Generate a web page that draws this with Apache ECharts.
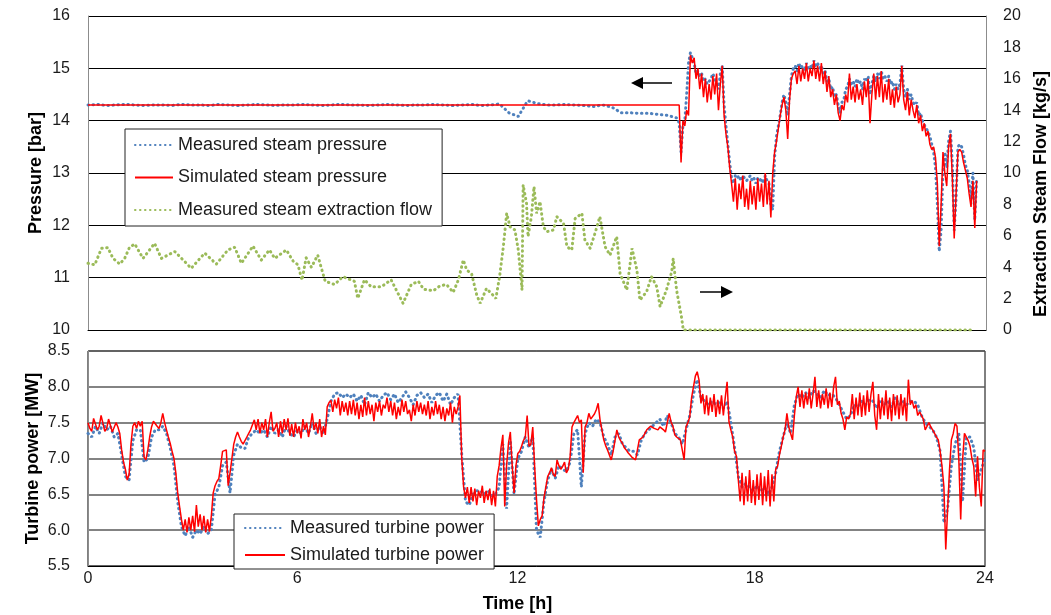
<!DOCTYPE html>
<html><head><meta charset="utf-8">
<script src="https://cdn.jsdelivr.net/npm/echarts@6/dist/echarts.min.js"></script>
<style>html,body{margin:0;padding:0;background:#fff}#c{width:1051px;height:615px}</style>
</head><body><div id="c"></div>
<script>
// ---------- DATA ----------
const xTicks = [0, 6, 12, 18, 24];
// Measured steam pressure [bar], 0 h .. 15.75 h, every 0.25 h
const pressMeasHead = [
 14.30,14.31,14.29,14.30,14.31,14.30,14.29,14.30,
 14.30,14.29,14.31,14.30,14.30,14.29,14.31,14.30,
 14.29,14.30,14.31,14.30,14.29,14.30,14.30,14.31,
 14.30,14.29,14.30,14.31,14.30,14.30,14.29,14.30,
 14.31,14.30,14.29,14.30,14.30,14.31,14.30,14.29,
 14.30,14.31,14.29,14.30,14.32,14.15,14.08,14.38,
 14.33,14.30,14.30,14.31,14.30,14.29,14.27,14.30,
 14.26,14.15,14.15,14.14,14.14,14.12,14.10,14.05
];
// Measured steam pressure [bar], 15.80 h .. 23.75 h, every 0.05 h
const pressMeasDense = [
 13.95,13.4,13.9,14.0,14.5,15.1,15.3,15.2,15.1,14.9,
 14.95,14.85,14.9,14.75,14.8,14.7,14.75,14.8,14.9,14.8,
 14.7,14.6,14.9,15.05,14.3,13.9,13.55,13.2,12.9,12.8,
 12.95,12.9,12.95,12.85,12.95,12.9,12.85,12.9,12.95,12.85,
 12.9,12.8,12.9,12.85,12.9,12.8,12.95,12.85,12.8,12.4,
 12.3,13.3,13.7,13.9,14.1,14.35,14.5,14.35,14.1,14.5,
 14.85,15.0,15.05,14.95,15.1,15.0,15.05,14.95,15.1,15.0,
 15.05,15.0,15.15,15.05,15.1,15.0,15.05,14.9,14.95,14.75,
 14.8,14.6,14.65,14.45,14.5,14.3,14.15,14.35,14.4,14.6,
 14.65,14.8,14.7,14.75,14.65,14.8,14.7,14.75,14.6,14.8,
 14.75,14.85,14.5,14.7,14.85,14.75,14.9,14.8,14.95,14.8,
 14.85,14.75,14.85,14.7,14.75,14.6,14.7,14.6,14.7,15.05,
 14.6,14.45,14.6,14.4,14.5,14.35,14.3,14.35,14.1,14.15,
 14.0,14.0,13.85,13.8,13.7,13.55,13.4,13.1,12.4,11.5,
 11.9,13.0,13.4,13.1,13.6,13.8,13.2,11.9,12.5,13.5,
 13.55,13.5,13.35,13.15,13.05,12.8,12.5,13.0,12.1,12.9
];
// Simulated steam pressure [bar]: constant until 15.8 h, then every 0.05 h from 15.80 h
const pressSimHead = [14.3];
const pressSimDense = [
 14.3,13.2,14.0,13.9,14.2,14.1,15.25,15.1,15.2,14.8,
 15.0,14.6,14.9,14.45,14.8,14.35,14.7,14.4,14.85,14.5,
 14.9,14.2,14.7,15.05,14.1,13.75,13.5,13.1,12.8,12.45,
 12.9,12.3,12.8,12.5,12.95,12.35,12.7,12.3,12.85,12.4,
 12.75,12.3,12.9,12.45,12.8,12.35,13.0,12.4,12.85,12.15,
 13.0,13.4,13.6,13.85,14.1,14.3,14.45,14.2,13.65,14.4,
 14.8,14.9,14.95,14.7,15.05,14.75,15.0,14.8,15.1,14.75,
 15.0,14.85,15.15,14.8,15.05,14.75,15.1,14.7,14.95,14.55,
 14.85,14.45,14.6,14.3,14.5,14.15,14.0,14.3,14.2,14.5,
 14.35,14.9,14.4,14.65,14.35,14.7,14.4,14.6,14.3,14.75,
 14.45,14.8,13.95,14.5,14.9,14.4,14.85,14.45,14.95,14.35,
 14.7,14.4,14.8,14.3,14.6,14.25,14.65,14.35,14.5,15.05,
 14.4,14.2,14.55,14.1,14.4,14.2,14.05,14.3,13.95,14.1,
 13.8,13.95,13.7,13.8,13.55,13.45,13.5,13.3,12.8,11.6,
 12.4,13.4,13.0,12.75,13.5,13.75,12.9,11.75,12.6,13.4,
 13.45,13.4,13.2,13.05,12.9,12.6,12.35,12.85,11.95,12.85
];
// Measured steam extraction flow [kg/s]
const flowTime = [0.00,0.18,0.36,0.53,0.67,0.85,0.98,1.11,1.25,1.47,1.78,1.96,2.32,2.76,3.12,3.43,3.74,3.92,4.10,4.41,
 4.63,4.85,4.99,5.30,5.48,5.61,5.72,5.83,5.97,6.14,6.23,6.34,6.59,6.81,7.12,7.21,7.39,7.57,7.84,8.10,
 8.42,8.64,8.83,8.97,9.23,9.40,9.58,9.76,9.90,10.03,10.12,10.25,10.39,10.48,10.65,10.82,10.90,11.00,11.10,11.19,
 11.28,11.41,11.50,11.60,11.63,11.72,11.76,11.85,11.92,11.99,12.08,12.17,12.26,12.44,12.53,12.71,12.80,12.93,13.02,13.20,
 13.28,13.42,13.55,13.68,13.82,13.95,14.13,14.22,14.40,14.54,14.67,14.75,14.93,15.06,15.20,15.29,15.46,15.60,15.64,15.73,
 15.86,15.91,23.70];
const flowVal = [4.25,4.15,5.2,5.25,4.56,4.2,4.56,5.27,5.48,4.56,5.52,4.56,5.0,3.93,4.9,4.2,5.1,5.27,4.25,5.35,
 4.45,5.1,4.56,5.1,4.4,4.15,3.18,4.6,4.0,4.77,4.0,3.1,2.9,3.4,3.1,2.02,3.2,2.75,2.75,3.2,
 1.7,2.9,3.1,2.6,2.5,2.8,2.9,2.4,3.2,4.46,3.82,3.6,2.23,1.7,2.65,2.23,2.0,3.4,5.3,7.43,
 6.58,6.37,5.1,2.55,9.24,8.07,5.95,7.22,9.13,7.43,8.18,6.58,6.26,6.37,7.22,6.79,5.3,5.1,7.1,7.43,
 5.73,5.2,6.16,7.22,5.3,4.77,5.95,3.6,2.55,5.2,3.82,1.9,2.44,3.4,2.76,1.49,2.55,3.7,4.55,2.55,
 0.85,0.0,0.0];
// Measured turbine power [MW], 0 h .. 24 h every 0.1 h (one row per hour)
const powerMeas = [
 7.35,7.3,7.45,7.35,7.5,7.4,7.45,7.3,7.35,7.05,
 6.75,6.7,7.25,7.4,7.4,6.95,7.0,7.3,7.4,7.4,
 7.45,7.35,7.15,6.9,6.4,6.05,5.92,6.05,5.9,6.0,
 5.95,6.05,5.95,6.0,6.5,6.6,6.9,6.95,6.52,7.05,
 7.2,7.15,7.14,7.3,7.35,7.4,7.35,7.4,7.3,7.45,
 7.35,7.4,7.3,7.45,7.35,7.3,7.4,7.35,7.45,7.35,
 7.5,7.35,7.45,7.35,7.55,7.8,7.9,7.92,7.85,7.9,
 7.85,7.9,7.8,7.88,7.75,7.92,7.85,7.9,7.8,7.88,
 7.92,7.82,7.9,7.78,7.85,7.93,7.85,7.75,7.88,7.92,
 7.85,7.9,7.78,7.88,7.92,7.8,7.9,7.75,7.85,7.9,
 7.05,6.4,6.35,6.5,6.55,6.55,6.5,6.55,6.48,6.5,
 6.6,7.2,6.3,7.25,6.5,7.0,7.1,7.3,7.15,7.3,
 6.0,5.9,6.4,6.7,6.85,6.72,6.9,6.85,6.82,6.95,
 7.35,7.4,6.6,7.35,7.5,7.45,7.55,7.5,7.3,7.2,
 7.05,7.3,7.35,7.2,7.15,7.1,7.1,7.05,7.25,7.35,
 7.4,7.45,7.5,7.55,7.45,7.6,7.5,7.35,7.3,7.2,
 7.4,7.6,7.9,8.1,7.85,7.8,7.75,7.8,7.75,7.8,
 7.7,7.8,7.5,7.15,6.75,6.6,6.65,6.6,6.55,6.62,
 6.55,6.6,6.5,6.6,6.8,7.1,7.3,7.5,7.35,7.75,
 7.9,7.85,7.92,7.85,7.95,7.9,7.85,7.95,7.88,7.9,
 7.85,7.75,7.65,7.55,7.6,7.75,7.72,7.8,7.75,7.82,
 7.8,7.7,7.82,7.75,7.8,7.72,7.85,7.75,7.8,7.75,
 7.8,7.8,7.75,7.6,7.5,7.45,7.4,7.3,7.1,6.1,
 6.3,6.9,7.2,7.35,6.4,7.3,7.3,7.15,6.7,6.85,
 7.0
];
// Simulated turbine power [MW], 0 h .. 24 h every 0.05 h (one row per hour)
const powerSim = [
 7.5,7.42,7.38,7.56,7.58,7.4,7.45,7.6,7.62,7.38,7.42,7.55,7.55,7.37,7.38,7.5,7.44,7.35,7.12,6.95,
 6.85,6.7,6.78,7.2,7.45,7.5,7.42,7.52,7.45,7.52,7.02,6.98,7.12,7.3,7.44,7.52,7.5,7.45,7.42,7.5,
 7.63,7.5,7.4,7.3,7.21,7.1,7.0,6.8,6.52,6.33,6.15,6.0,6.15,5.97,6.18,6.0,6.2,5.98,6.35,6.05,
 6.22,6.0,6.2,5.97,6.15,5.98,6.2,6.52,6.62,6.68,6.72,6.9,7.1,7.12,7.12,6.62,6.8,7.0,7.2,7.3,
 7.37,7.3,7.24,7.2,7.21,7.3,7.35,7.4,7.4,7.54,7.4,7.55,7.35,7.5,7.4,7.55,7.3,7.5,7.65,7.38,
 7.42,7.5,7.3,7.52,7.35,7.55,7.4,7.56,7.32,7.48,7.3,7.5,7.35,7.45,7.28,7.55,7.4,7.5,7.3,7.45,
 7.63,7.4,7.5,7.35,7.55,7.3,7.45,7.33,7.72,7.78,7.81,7.65,7.82,7.7,7.85,7.6,7.8,7.65,7.78,7.6,
 7.8,7.62,7.82,7.6,7.78,7.55,7.75,7.58,7.85,7.6,7.8,7.62,7.75,7.52,7.78,7.65,7.8,7.6,7.75,7.7,
 7.85,7.65,7.8,7.6,7.78,7.55,7.72,7.6,7.82,7.65,7.8,7.62,7.68,7.52,7.75,7.6,7.8,7.65,7.78,7.62,
 7.75,7.6,7.8,7.55,7.72,7.6,7.8,7.62,7.75,7.55,7.72,7.52,7.7,7.6,7.78,7.5,7.72,7.62,7.72,7.88,
 7.0,6.6,6.45,6.6,6.38,6.6,6.4,6.58,6.35,6.55,6.45,6.62,6.38,6.55,6.42,6.58,6.35,6.55,6.33,6.75,
 6.9,7.15,7.33,6.33,6.9,7.21,7.37,6.9,6.52,6.9,7.07,7.1,7.17,7.25,7.3,7.6,7.17,7.2,7.44,6.89,
 6.43,6.06,6.15,6.2,6.45,6.6,6.75,6.8,6.87,6.78,6.75,6.98,6.9,6.85,6.89,6.95,6.8,6.85,7.03,7.44,
 7.5,7.55,7.6,7.5,7.54,6.8,7.44,7.5,7.63,7.55,7.54,7.62,7.68,7.77,7.54,7.4,7.26,7.18,7.12,7.05,
 6.98,7.1,7.25,7.4,7.3,7.25,7.21,7.15,7.12,7.08,7.07,7.02,7.0,6.98,6.98,7.26,7.25,7.3,7.35,7.4,
 7.38,7.45,7.47,7.42,7.44,7.4,7.44,7.42,7.4,7.37,7.5,7.63,7.51,7.45,7.33,7.3,7.28,7.26,7.26,6.98,
 7.44,7.5,7.58,7.85,8.0,8.15,8.21,8.09,7.77,7.9,7.62,7.88,7.6,7.85,7.65,7.9,7.58,7.82,7.62,7.88,
 7.6,7.85,8.07,7.51,7.4,7.3,7.1,7.03,6.7,6.4,6.8,6.35,6.75,6.4,6.84,6.38,6.7,6.35,6.78,6.42,
 6.8,6.35,6.75,6.4,6.84,6.33,6.78,6.4,6.85,6.89,7.05,7.17,7.3,7.4,7.63,7.44,7.35,7.26,7.6,7.86,
 8.0,7.72,7.95,7.7,7.92,7.75,7.98,7.7,7.9,8.14,7.72,7.95,7.7,7.9,7.75,7.98,7.7,7.92,7.72,8.0,
 8.14,7.75,7.8,7.63,7.55,7.4,7.58,7.55,7.62,7.9,7.55,7.85,7.6,7.92,7.58,7.88,7.6,7.95,7.65,7.9,
 8.07,7.6,7.4,7.9,7.55,7.85,7.6,7.95,7.55,7.85,7.52,7.9,7.6,7.88,7.55,7.9,7.6,7.85,7.52,8.1,
 7.75,7.81,7.7,7.75,7.6,7.65,7.63,7.55,7.4,7.45,7.5,7.44,7.4,7.35,7.3,7.26,7.1,6.89,6.61,5.73,
 6.29,6.84,7.26,7.35,7.49,7.45,6.98,6.15,6.98,7.35,7.35,7.25,7.17,7.0,6.89,6.47,7.03,6.6,6.33,7.12,
 7.1
];

// ---------- BUILD ----------
function seq(t0, dt, vals) { return vals.map((v, i) => [+(t0 + i * dt).toFixed(3), v]); }
const measPressData = seq(0, 0.25, pressMeasHead).concat(seq(15.8, 0.05, pressMeasDense));
const simPressData = [[0, pressSimHead[0]]].concat(seq(15.8, 0.05, pressSimDense));
const flowData = flowTime.map((t, i) => [t, flowVal[i]]);
const measPowerData = seq(0, 0.1, powerMeas);
const simPowerData = seq(0, 0.05, powerSim);

const FONT = '"Liberation Sans", Arial, sans-serif';
const BLUE = '#4F81BD', RED = '#FF0000', GREEN = '#9BBB59';
const dotStyle = (c) => ({ color: c, width: 3, type: [0.5, 4.5], cap: 'round' });
const lbl = { fontFamily: FONT, fontSize: 16, color: '#1a1a1a' };
const ttl = { fontFamily: FONT, fontSize: 18, fontWeight: 'bold', color: '#000' };

const chart = echarts.init(document.getElementById('c'), null, { renderer: 'canvas' });
chart.setOption({
  backgroundColor: '#fff',
  animation: false,
  grid: [
    { left: 88, right: 65, top: 16, height: 314, outerBoundsMode: 'none', containLabel: false },
    { left: 88, right: 66, top: 351, height: 215, outerBoundsMode: 'none', containLabel: false,
      show: true, borderColor: '#000', borderWidth: 1 }
  ],
  xAxis: [
    { gridIndex: 0, type: 'value', min: 0, max: 24, interval: 6,
      axisLabel: { show: false }, axisTick: { show: false }, splitLine: { show: false },
      axisLine: { show: true, lineStyle: { color: '#000', width: 1 } } },
    { gridIndex: 1, type: 'value', min: 0, max: 24, interval: 6,
      axisTick: { show: false }, splitLine: { show: false },
      axisLine: { show: true, lineStyle: { color: '#000', width: 1 } },
      axisLabel: Object.assign({}, lbl, { margin: 5,
        formatter: v => '{s' + v + '|' + v + '}',
        rich: { s0: {}, s6: { padding: [0, 30, 0, 0] }, s12: { padding: [0, 38, 0, 0] },
                s18: { padding: [0, 12, 0, 0] }, s24: {} } }),
      name: 'Time [h]', nameLocation: 'middle', nameGap: 29, nameMoveOverlap: false,
      nameTextStyle: Object.assign({}, ttl, { padding: [0, 38, 0, 0] }) }
  ],
  yAxis: [
    { gridIndex: 0, type: 'value', min: 10, max: 16, interval: 1, position: 'left',
      axisLine: { show: true, lineStyle: { color: '#8c8c8c', width: 1 } }, axisTick: { show: false },
      splitLine: { show: true, lineStyle: { color: '#000', width: 1 } },
      axisLabel: Object.assign({}, lbl, { margin: 18 }),
      name: 'Pressure [bar]', nameLocation: 'middle', nameRotate: 90, nameGap: 43, nameMoveOverlap: false,
      nameTextStyle: ttl },
    { gridIndex: 0, type: 'value', min: 0, max: 20, interval: 2, position: 'right',
      axisLine: { show: true, lineStyle: { color: '#8c8c8c', width: 1 } }, axisTick: { show: false },
      splitLine: { show: false },
      axisLabel: Object.assign({}, lbl, { margin: 17 }),
      name: 'Extraction Steam Flow [kg/s]', nameLocation: 'middle', nameRotate: 90, nameGap: 45,
      nameTextStyle: Object.assign({}, ttl, { padding: [0, 42, 0, 0] }) },
    { gridIndex: 1, type: 'value', min: 5.5, max: 8.5, interval: 0.5, position: 'left',
      axisLine: { show: true, lineStyle: { color: '#8c8c8c', width: 1 } }, axisTick: { show: false },
      splitLine: { show: true, lineStyle: { color: '#5a5a5a', width: 1.5 } },
      axisLabel: Object.assign({}, lbl, { margin: 18, formatter: v => v.toFixed(1) }),
      name: 'Turbine power [MW]', nameLocation: 'middle', nameRotate: 90, nameGap: 46, nameMoveOverlap: false,
      nameTextStyle: ttl }
  ],
  legend: [
    { data: ['Measured steam pressure', 'Simulated steam pressure', 'Measured steam extraction flow'],
      orient: 'vertical', left: 125, top: 129, itemWidth: 38, itemHeight: 14, itemGap: 14.5,
      padding: [7, 10, 7, 9], backgroundColor: '#fff', borderColor: '#222', borderWidth: 1,
      itemStyle: { opacity: 0 },
      textStyle: { fontFamily: FONT, fontSize: 18, color: '#1a1a1a' }, selectedMode: false },
    { data: ['Measured turbine power', 'Simulated turbine power'],
      orient: 'vertical', left: 234, top: 514, itemWidth: 40, itemHeight: 14, itemGap: 9,
      padding: [5, 10, 5, 10], backgroundColor: '#fff', borderColor: '#222', borderWidth: 1,
      itemStyle: { opacity: 0 },
      textStyle: { fontFamily: FONT, fontSize: 18, color: '#1a1a1a' }, selectedMode: false }
  ],
  series: [
    { name: 'Measured steam pressure', type: 'line', xAxisIndex: 0, yAxisIndex: 0, data: measPressData,
      showSymbol: false, symbol: 'none', lineStyle: dotStyle(BLUE), itemStyle: { color: BLUE }, z: 2 },
    { name: 'Simulated steam pressure', type: 'line', xAxisIndex: 0, yAxisIndex: 0, data: simPressData,
      showSymbol: false, symbol: 'none', lineStyle: { color: RED, width: 1.5 }, itemStyle: { color: RED }, z: 3 },
    { name: 'Measured steam extraction flow', type: 'line', xAxisIndex: 0, yAxisIndex: 1, data: flowData,
      showSymbol: false, symbol: 'none', lineStyle: dotStyle(GREEN), itemStyle: { color: GREEN }, z: 2 },
    { name: 'Measured turbine power', type: 'line', xAxisIndex: 1, yAxisIndex: 2, data: measPowerData,
      showSymbol: false, symbol: 'none', lineStyle: dotStyle(BLUE), itemStyle: { color: BLUE }, z: 2 },
    { name: 'Simulated turbine power', type: 'line', xAxisIndex: 1, yAxisIndex: 2, data: simPowerData,
      showSymbol: false, symbol: 'none', lineStyle: { color: RED, width: 1.5 }, itemStyle: { color: RED }, z: 3 }
  ],
  graphic: [
    { type: 'line', shape: { x1: 672, y1: 83, x2: 641, y2: 83 }, style: { stroke: '#000', lineWidth: 1.5 }, z: 10 },
    { type: 'polygon', shape: { points: [[631, 83], [643, 77], [643, 89]] }, style: { fill: '#000' }, z: 10 },
    { type: 'line', shape: { x1: 700, y1: 292, x2: 722, y2: 292 }, style: { stroke: '#000', lineWidth: 1.5 }, z: 10 },
    { type: 'polygon', shape: { points: [[733, 292], [721, 286], [721, 298]] }, style: { fill: '#000' }, z: 10 }
  ]
});
</script>
</body></html>
